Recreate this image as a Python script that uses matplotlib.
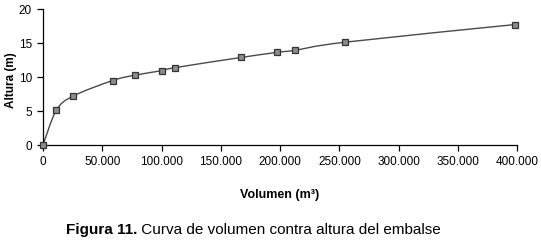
import matplotlib.pyplot as plt
import numpy as np
from matplotlib.path import Path
from matplotlib.patches import PathPatch
from matplotlib.ticker import FuncFormatter

plt.rcParams['font.family'] = ['Liberation Sans', 'DejaVu Sans']

# volumen (m3) vs altura (m)
volumen = [0, 11200, 25300, 58700, 77800, 100000, 111300, 167000, 197300, 212200, 254700, 398000]
altura = [0, 5.1, 7.2, 9.5, 10.3, 10.95, 11.4, 12.9, 13.65, 13.95, 15.15, 17.75]
x_ticks = [0, 50000, 100000, 150000, 200000, 250000, 300000, 350000, 400000]
y_ticks = [0, 5, 10, 15, 20]


def smooth_path(xs, ys):
    """Excel-style smoothed line as cubic bezier segments through the points."""
    pts = np.column_stack([xs, ys]).astype(float)
    n = len(pts)
    verts = [pts[0]]
    codes = [Path.MOVETO]
    for i in range(n - 1):
        p0 = pts[max(i - 1, 0)]
        p1 = pts[i]
        p2 = pts[i + 1]
        p3 = pts[min(i + 2, n - 1)]
        c1 = p1 + (p2 - p0) / 6
        c2 = p2 - (p3 - p1) / 6
        verts += [c1, c2, p2]
        codes += [Path.CURVE4] * 3
    return Path(verts, codes)


fig = plt.figure(figsize=(5.41, 2.42), dpi=100)
ax = fig.add_axes([0.0795, 0.4008, 0.8765, 0.5608])

ax.add_patch(PathPatch(smooth_path(volumen, altura), facecolor='none',
                       edgecolor='#4a4a4a', lw=1.0, zorder=2))
ax.plot(volumen, altura, ls='none', marker='s', ms=5, mfc='#8c8c8c',
        mec='#333333', mew=0.9, clip_on=False, zorder=3)

ax.set_xlim(0, 400000)
ax.set_ylim(0, 20)
ax.set_xticks(x_ticks)
ax.set_yticks(y_ticks)
ax.xaxis.set_major_formatter(FuncFormatter(lambda v, p: f'{int(v):,}'.replace(',', '.')))

for s in ['top', 'right']:
    ax.spines[s].set_visible(False)
for s in ['left', 'bottom']:
    ax.spines[s].set_linewidth(0.9)
    ax.spines[s].set_color('black')
ax.tick_params(direction='out', length=4, width=0.9, labelsize=8.5, pad=4)

ax.set_xlabel('Volumen (m³)', fontsize=9, fontweight='bold', labelpad=15)
ax.set_ylabel('Altura (m)', fontsize=8.5, fontweight='bold')
ax.yaxis.set_label_coords(-0.054, 0.48)

t = fig.text(66 / 541, 1 - 230 / 242, 'Figura 11.', fontsize=11,
             fontweight='bold', ha='left', va='center')
ax.annotate(' Curva de volumen contra altura del embalse', xy=(1, 0),
            xycoords=t, va='bottom', ha='left', fontsize=11)

fig.savefig('out.png', dpi=100)
